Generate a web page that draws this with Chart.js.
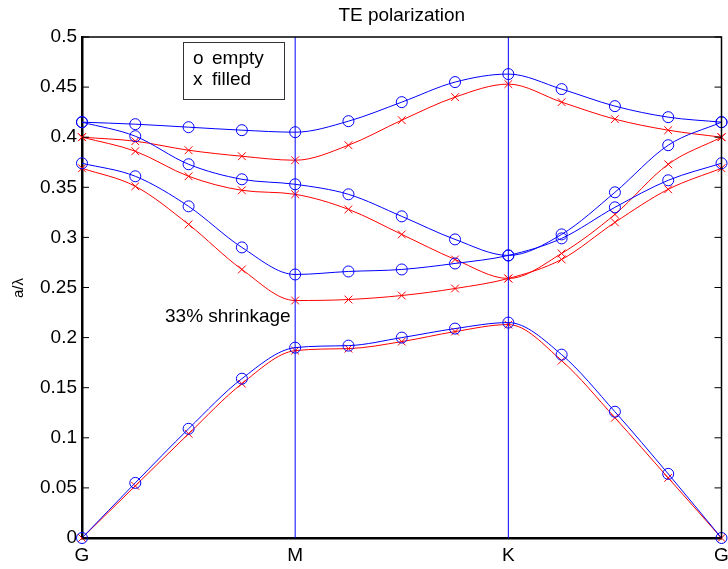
<!DOCTYPE html>
<html>
<head>
<meta charset="utf-8">
<title>TE polarization</title>
<script src="https://cdn.jsdelivr.net/npm/chart.js@4.4.1/dist/chart.umd.min.js"></script>
<style>
  html, body { margin: 0; padding: 0; background: #fff; }
  canvas { display: block; }
</style>
</head>
<body>
<canvas id="bandChart" width="728" height="569"></canvas>
<script>
// k-path sample points (G -> M -> K -> G), 4 steps per segment
const kPoints = [0, 1, 2, 3, 4, 5, 6, 7, 8, 9, 10, 11, 12];
const xTicks = [0, 4, 8, 12];
const xLabels = ["G", "M", "K", "G"];

// empty structure (blue circles)
const empty1 = [0, 0.055, 0.109, 0.159, 0.190, 0.192, 0.200, 0.209, 0.215, 0.183, 0.126, 0.064, 0];
const empty2 = [0.374, 0.361, 0.331, 0.290, 0.263, 0.266, 0.268, 0.274, 0.282, 0.299, 0.330, 0.357, 0.374];
const empty3 = [0.415, 0.401, 0.373, 0.358, 0.353, 0.343, 0.321, 0.298, 0.282, 0.303, 0.345, 0.392, 0.415];
const empty4 = [0.415, 0.413, 0.410, 0.407, 0.405, 0.416, 0.435, 0.455, 0.463, 0.448, 0.431, 0.420, 0.415];

// filled structure (red crosses)
const filled1 = [0, 0.052, 0.104, 0.154, 0.187, 0.189, 0.196, 0.206, 0.213, 0.177, 0.120, 0.060, 0];
const filled2 = [0.369, 0.351, 0.313, 0.268, 0.237, 0.238, 0.242, 0.249, 0.259, 0.278, 0.315, 0.348, 0.369];
const filled3 = [0.400, 0.386, 0.361, 0.347, 0.343, 0.328, 0.303, 0.278, 0.259, 0.284, 0.323, 0.373, 0.400];
const filled4 = [0.400, 0.396, 0.387, 0.381, 0.377, 0.392, 0.417, 0.440, 0.453, 0.435, 0.418, 0.407, 0.400];

const FONT = "'Liberation Sans', Arial, Helvetica, sans-serif";

function band(label, ys, color, style) {
  return {
    label: label,
    data: kPoints.map((k, i) => ({ x: k, y: ys[i] })),
    borderColor: color,
    backgroundColor: "rgba(0,0,0,0)",
    borderWidth: 1,
    cubicInterpolationMode: "monotone",
    pointStyle: style,
    pointRadius: style === "circle" ? 5.5 : 5.5,
    pointBorderWidth: 1,
    pointBorderColor: color,
    pointBackgroundColor: "rgba(0,0,0,0)",
    clip: false
  };
}

function symLine(xv) {
  return {
    label: "sym" + xv,
    data: [{ x: xv, y: 0 }, { x: xv, y: 0.5 }],
    borderColor: "#0000ff",
    borderWidth: 1,
    pointRadius: 0,
    tension: 0
  };
}

// title, frame, inward ticks, legend box and note
const decorations = {
  id: "decorations",
  afterDraw(chart) {
    const ctx = chart.ctx;
    const a = chart.chartArea;
    const ys = chart.scales.y;
    ctx.save();

    ctx.strokeStyle = "#000";
    ctx.lineWidth = 1.5;
    ctx.beginPath();
    ctx.moveTo(a.left, a.top);
    ctx.lineTo(a.right, a.top);
    ctx.lineTo(a.right, a.bottom);
    ctx.stroke();

    ctx.lineWidth = 1;
    ys.ticks.forEach(t => {
      const py = ys.getPixelForValue(t.value);
      ctx.beginPath();
      ctx.moveTo(a.left, py);
      ctx.lineTo(a.left + 7, py);
      ctx.moveTo(a.right, py);
      ctx.lineTo(a.right - 7, py);
      ctx.stroke();
    });

    ctx.fillStyle = "#000";
    ctx.font = "19px " + FONT;
    ctx.textAlign = "center";
    ctx.textBaseline = "alphabetic";
    ctx.fillText("TE polarization", (a.left + a.right) / 2, 21);

    // y axis title
    ctx.save();
    ctx.translate(19, 288);
    ctx.rotate(-Math.PI / 2);
    ctx.font = "15px " + FONT;
    ctx.textBaseline = "middle";
    ctx.fillText("a/\u03bb", 0, 0);
    ctx.restore();

    // legend box
    ctx.strokeStyle = "#333";
    ctx.lineWidth = 1;
    ctx.strokeRect(183.5, 42.5, 101, 57);
    ctx.textAlign = "left";
    ctx.font = "19px " + FONT;
    ctx.fillText("o", 193, 64);
    ctx.fillText("empty", 212, 64);
    ctx.fillText("x", 193, 85);
    ctx.fillText("filled", 212, 85);

    ctx.fillText("33% shrinkage", 165, 322);
    ctx.restore();
  }
};

new Chart(document.getElementById("bandChart"), {
  type: "line",
  data: {
    datasets: [
      symLine(4), symLine(8),
      band("empty 1", empty1, "#0000ff", "circle"),
      band("empty 2", empty2, "#0000ff", "circle"),
      band("empty 3", empty3, "#0000ff", "circle"),
      band("empty 4", empty4, "#0000ff", "circle"),
      band("filled 1", filled1, "#ff0000", "crossRot"),
      band("filled 2", filled2, "#ff0000", "crossRot"),
      band("filled 3", filled3, "#ff0000", "crossRot"),
      band("filled 4", filled4, "#ff0000", "crossRot")
    ]
  },
  options: {
    responsive: false,
    animation: false,
    devicePixelRatio: 1,
    layout: { padding: { top: 37, right: 5, left: 0, bottom: 0 } },
    plugins: {
      legend: { display: false },
      title: { display: false },
      tooltip: { enabled: false }
    },
    scales: {
      x: {
        type: "linear",
        min: 0,
        max: 12,
        afterBuildTicks: s => { s.ticks = xTicks.map(v => ({ value: v })); },
        afterFit: s => { s.height = 31; s.paddingLeft = 0; s.paddingRight = 0; },
        grid: { display: false, drawTicks: false },
        border: { display: true, color: "#000", width: 2.5 },
        ticks: {
          padding: 6,
          color: "#000",
          font: { family: FONT, size: 19 },
          maxRotation: 0,
          autoSkip: false,
          callback: (v, i) => xLabels[i]
        }
      },
      y: {
        type: "linear",
        min: 0,
        max: 0.5,
        afterFit: s => { s.width = 82; },
        grid: { display: false, drawTicks: false },
        border: { display: true, color: "#000", width: 2.5 },
        ticks: {
          stepSize: 0.05,
          padding: 5,
          color: "#000",
          font: { family: FONT, size: 19 },
          callback: v => String(Number(v.toFixed(2)))
        }
      }
    }
  },
  plugins: [decorations]
});
</script>
</body>
</html>
